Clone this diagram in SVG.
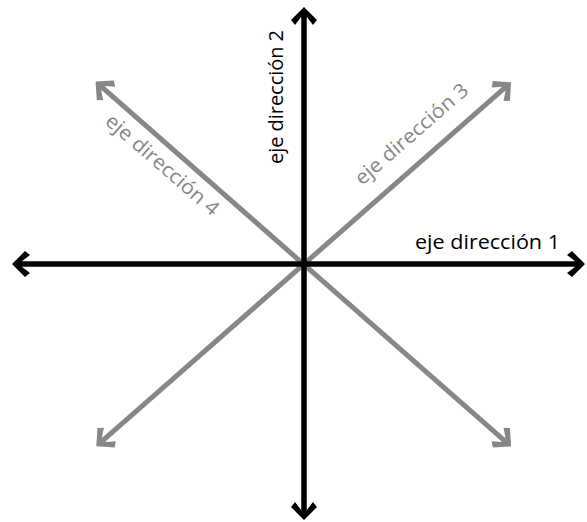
<svg xmlns="http://www.w3.org/2000/svg" width="587" height="522" viewBox="0 0 587 522">
  <style>
    .blk { stroke: #000; stroke-width: 5.5; fill: none; }
    .gry { stroke: #878787; stroke-width: 5; fill: none; }
    .lbl { font-family: "Open Sans", "Liberation Sans", sans-serif; font-size: 20px; }
  </style>
  <defs>
    <marker id="ah-black" markerUnits="userSpaceOnUse" viewBox="-20 -15 30 30" markerWidth="30" markerHeight="30" refX="-10" refY="0" orient="auto-start-reverse">
      <polygon points="0,0 -13,-13 -18,-9 -9.5,-2.5 -11,-2.5 -11,2.5 -9.5,2.5 -18,9 -13,13" fill="#000"/>
    </marker>
    <marker id="ah-gray" markerUnits="userSpaceOnUse" viewBox="-20 -15 30 30" markerWidth="30" markerHeight="30" refX="-10" refY="0" orient="auto-start-reverse">
      <polygon points="0,0 -13,-13 -18,-9 -9.5,-2.5 -11,-2.5 -11,2.5 -9.5,2.5 -18,9 -13,13" fill="#878787"/>
    </marker>
  </defs>
  <g id="connectors">
    <line class="gry" x1="103.1" y1="88.2" x2="503.6" y2="439.8" marker-start="url(#ah-gray)" marker-end="url(#ah-gray)"/>
    <line class="gry" x1="103.8" y1="439.7" x2="503.6" y2="88.9" marker-start="url(#ah-gray)" marker-end="url(#ah-gray)"/>
    <line class="blk" x1="22" y1="264" x2="575" y2="264" marker-start="url(#ah-black)" marker-end="url(#ah-black)"/>
    <line class="blk" x1="304" y1="17" x2="304" y2="510" marker-start="url(#ah-black)" marker-end="url(#ah-black)"/>
  </g>
  <g id="label-1"><text class="lbl" x="415" y="249" textLength="145" lengthAdjust="spacingAndGlyphs" fill="#000">eje dirección 1</text></g>
  <g id="label-2"><text class="lbl" transform="translate(283,164) rotate(-90)" textLength="134" lengthAdjust="spacingAndGlyphs" fill="#000">eje dirección 2</text></g>
  <g id="label-3"><text class="lbl" transform="translate(362,186) rotate(-41)" textLength="143" lengthAdjust="spacingAndGlyphs" fill="#878787">eje dirección 3</text></g>
  <g id="label-4"><text class="lbl" transform="translate(104,123) rotate(41)" textLength="143" lengthAdjust="spacingAndGlyphs" fill="#878787">eje dirección 4</text></g>
</svg>
